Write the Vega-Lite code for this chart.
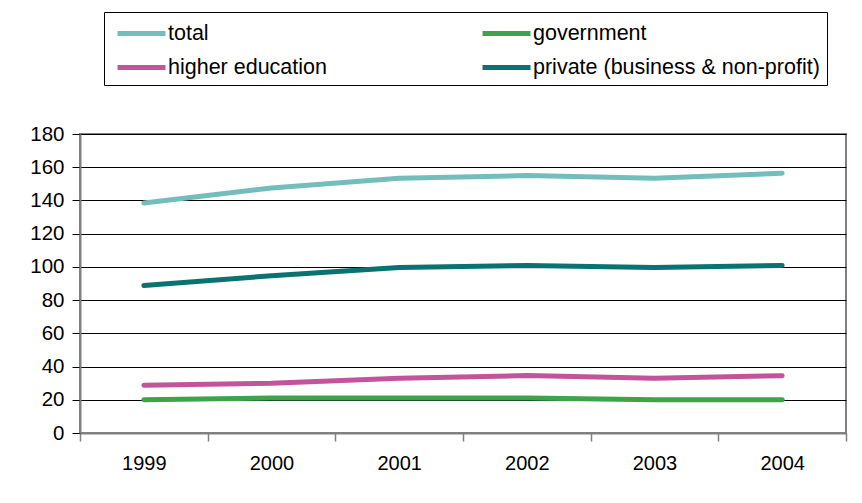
{
  "$schema": "https://vega.github.io/schema/vega-lite/v6.json",
  "autosize": "none",
  "width": 766,
  "height": 299,
  "padding": {"left": 80, "top": 134, "right": 16, "bottom": 70},
  "background": "white",
  "data": {
    "values": [
      {"year": "1999", "series": "total", "value": 138.5},
      {"year": "2000", "series": "total", "value": 147.5},
      {"year": "2001", "series": "total", "value": 153.3},
      {"year": "2002", "series": "total", "value": 155},
      {"year": "2003", "series": "total", "value": 153.3},
      {"year": "2004", "series": "total", "value": 156.4},
      {"year": "1999", "series": "government", "value": 20},
      {"year": "2000", "series": "government", "value": 21},
      {"year": "2001", "series": "government", "value": 21},
      {"year": "2002", "series": "government", "value": 21},
      {"year": "2003", "series": "government", "value": 20},
      {"year": "2004", "series": "government", "value": 20},
      {"year": "1999", "series": "higher education", "value": 28.7},
      {"year": "2000", "series": "higher education", "value": 30},
      {"year": "2001", "series": "higher education", "value": 33},
      {"year": "2002", "series": "higher education", "value": 34.6},
      {"year": "2003", "series": "higher education", "value": 33},
      {"year": "2004", "series": "higher education", "value": 34.5},
      {"year": "1999", "series": "private (business & non-profit)", "value": 88.8},
      {"year": "2000", "series": "private (business & non-profit)", "value": 94.7},
      {"year": "2001", "series": "private (business & non-profit)", "value": 99.7},
      {"year": "2002", "series": "private (business & non-profit)", "value": 100.9},
      {"year": "2003", "series": "private (business & non-profit)", "value": 99.7},
      {"year": "2004", "series": "private (business & non-profit)", "value": 100.8}
    ]
  },
  "mark": {"type": "line", "strokeWidth": 5, "strokeCap": "round", "strokeJoin": "round"},
  "encoding": {
    "x": {
      "field": "year",
      "type": "ordinal",
      "scale": {"paddingInner": 0, "paddingOuter": 0},
      "axis": {
        "title": null,
        "labelAngle": 0,
        "tickBand": "extent",
        "labelFontSize": 20,
        "labelColor": "black",
        "labelPadding": 12,
        "tickSize": 8,
        "tickColor": "#808080",
        "tickWidth": 1.5,
        "domainColor": "#808080",
        "domainWidth": 2,
        "grid": false
      }
    },
    "y": {
      "field": "value",
      "type": "quantitative",
      "scale": {"domain": [0, 180], "nice": false},
      "axis": {
        "title": null,
        "values": [0, 20, 40, 60, 80, 100, 120, 140, 160, 180],
        "grid": true,
        "gridColor": "black",
        "gridWidth": 1,
        "tickSize": 8,
        "tickColor": "black",
        "labelFontSize": 20.5,
        "labelColor": "black",
        "labelPadding": 8,
        "domainColor": "#808080",
        "domainWidth": 2
      }
    },
    "color": {
      "field": "series",
      "type": "nominal",
      "sort": null,
      "scale": {
        "domain": ["total", "government", "higher education", "private (business & non-profit)"],
        "range": ["#74BDBD", "#3EA34B", "#C2549C", "#0B7272"]
      },
      "legend": {
        "title": null,
        "orient": "none",
        "legendX": 24,
        "legendY": -122,
        "columns": 2,
        "direction": "horizontal",
        "symbolType": "M-2,0H2",
        "symbolSize": 576,
        "symbolStrokeWidth": 5,
        "symbolOffset": 16,
        "labelFontSize": 21.5,
        "labelColor": "black",
        "labelOffset": 12,
        "labelLimit": 400,
        "rowPadding": 9,
        "columnPadding": 145,
        "padding": 7,
        "strokeColor": "black",
        "fillColor": "white"
      }
    }
  },
  "config": {
    "font": "Liberation Sans",
    "view": {"stroke": "#808080", "strokeWidth": 2}
  }
}
